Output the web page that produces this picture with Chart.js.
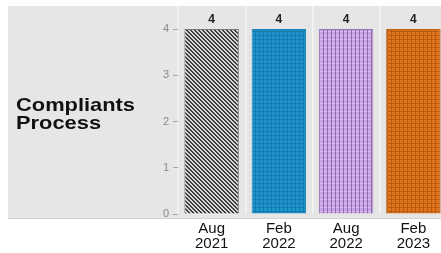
<!DOCTYPE html>
<html>
<head>
<meta charset="utf-8">
<script src="https://cdn.jsdelivr.net/npm/chart.js@4"></script>
<style>
  html, body { margin: 0; padding: 0; background: #fff; overflow: hidden; }
  #wrap { width: 447px; height: 253px; position: relative; }
</style>
</head>
<body>
<div id="wrap"><canvas id="chart"></canvas></div>
<script>
// Data
const categories = [['Aug', '2021'], ['Feb', '2022'], ['Aug', '2022'], ['Feb', '2023']];
const values = [4, 4, 4, 4];
const yTicks = [0, 1, 2, 3, 4];
const rowLabel = ['Compliants', 'Process'];

// small pattern tiles for the bars
function makePattern(size, draw) {
    const c = document.createElement('canvas');
    c.width = size; c.height = size;
    const g = c.getContext('2d');
    draw(g, size);
    return document.createElement('canvas').getContext('2d').createPattern(c, 'repeat');
}

const hatchGray = makePattern(4, function(g, s) {
    g.fillStyle = '#d8d8d8';
    g.fillRect(0, 0, s, s);
    g.fillStyle = '#3c3c3c';
    for (let i = 0; i < s; i++) {
        g.fillRect(i, i, 1, 1);
        g.fillRect((i + 1) % s, i, 1, 1);
    }
});
const gridBlue = makePattern(4, function(g, s) {
    g.fillStyle = '#1d93cc';
    g.fillRect(0, 0, s, s);
    g.fillStyle = '#137bb0';
    g.fillRect(0, 3, s, 1);
    g.fillRect(3, 0, 1, s);
});
const gridPurple = makePattern(4, function(g, s) {
    g.fillStyle = '#c7a2e6';
    g.fillRect(0, 0, s, s);
    g.fillStyle = '#8e6aa8';
    g.fillRect(3, 0, 1, s);
    g.fillStyle = '#d9c0f0';
    g.fillRect(0, 3, 3, 1);
});
const gridOrange = makePattern(4, function(g, s) {
    g.fillStyle = '#e2741c';
    g.fillRect(0, 0, s, s);
    g.fillStyle = '#b85a10';
    g.fillRect(0, 3, s, 1);
    g.fillRect(3, 0, 1, s);
});

// gray panel + row label behind the chart
const panelPlugin = {
    id: 'panel',
    beforeDraw(chart) {
        const ctx = chart.ctx;
        const a = chart.chartArea;
        ctx.save();
        ctx.fillStyle = '#e6e6e6';
        ctx.fillRect(8, a.top, chart.width - 8, a.bottom + 4 - a.top);
        ctx.fillStyle = '#d2d2d2';
        ctx.fillRect(8, a.bottom + 4, chart.width - 8, 1);
        ctx.fillStyle = '#111';
        ctx.font = 'bold 19px "Liberation Sans", Arial, sans-serif';
        ctx.textBaseline = 'alphabetic';
        ctx.translate(16, 0);
        ctx.scale(1.15, 1);
        ctx.fillText(rowLabel[0], 0, 111);
        ctx.fillText(rowLabel[1], 0, 129);
        ctx.restore();
    },
    afterDatasetsDraw(chart) {
        const ctx = chart.ctx;
        const meta = chart.getDatasetMeta(0);
        ctx.save();
        ctx.fillStyle = '#222';
        ctx.font = 'bold 12px "Liberation Sans", Arial, sans-serif';
        ctx.textAlign = 'center';
        ctx.textBaseline = 'middle';
        meta.data.forEach(function(bar, i) {
            ctx.fillText(String(values[i]), bar.x, bar.y - 9);
        });
        ctx.restore();
    }
};

const ctx = document.getElementById('chart').getContext('2d');
const chart = new Chart(ctx, {
    type: 'bar',
    data: {
        labels: categories,
        datasets: [{
            data: values,
            backgroundColor: [hatchGray, gridBlue, gridPurple, gridOrange],
            borderColor: ['#777', '#1780b8', '#9a78b8', '#c0600e'],
            borderWidth: 1,
            categoryPercentage: 0.81,
            barPercentage: 1
        }]
    },
    options: {
        responsive: true,
        maintainAspectRatio: false,
        animation: false,
        layout: { padding: { top: 6, right: 0, left: 0, bottom: 0 } },
        plugins: {
            legend: { display: false },
            tooltip: { enabled: false }
        },
        scales: {
            x: {
                offset: true,
                afterFit(scale) {
                    scale.height = 39;
                    scale.paddingLeft = 0;
                    scale.paddingRight = 0;
                },
                grid: {
                    display: true,
                    offset: true,
                    color: '#f4f4f4',
                    lineWidth: 1.5,
                    drawTicks: false
                },
                border: { display: false },
                ticks: {
                    color: '#111',
                    font: { family: '"Liberation Sans", Arial, sans-serif', size: 15, lineHeight: 1 },
                    padding: 7,
                    maxRotation: 0
                }
            },
            y: {
                min: 0,
                max: 4.5,
                afterFit(scale) {
                    scale.width = 178;
                    scale.paddingTop = 0;
                    scale.paddingBottom = 0;
                },
                afterBuildTicks(scale) {
                    scale.ticks = yTicks.map(function(v) { return { value: v }; });
                },
                grid: {
                    display: true,
                    drawOnChartArea: false,
                    drawTicks: true,
                    tickLength: 5,
                    color: '#a8a8a8'
                },
                border: { display: false },
                ticks: {
                    color: '#888',
                    font: { family: '"Liberation Sans", Arial, sans-serif', size: 11 },
                    padding: 4
                }
            }
        }
    },
    plugins: [panelPlugin]
});
</script>
</body>
</html>
